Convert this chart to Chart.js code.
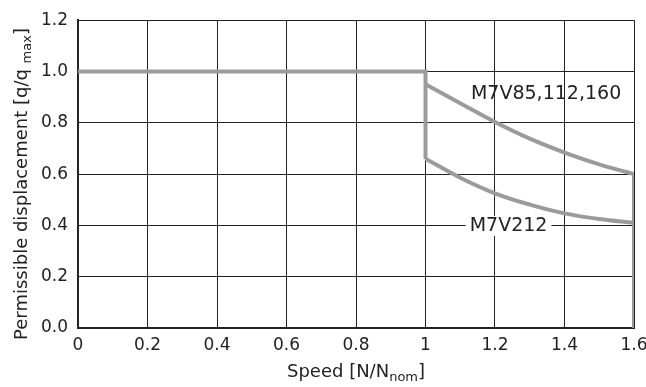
<!DOCTYPE html>
<html>
<head>
<meta charset="utf-8">
<script src="https://cdn.jsdelivr.net/npm/chart.js@4.4.0/dist/chart.umd.min.js"></script>
<style>
  html, body { margin: 0; padding: 0; background: #fff; }
  #wrap { width: 646px; height: 387px; }
</style>
</head>
<body>
<div id="wrap"><canvas id="myChart" width="646" height="387"></canvas></div>
<script>
// values
const flatX = [0, 1, 1];
const flatY = [1.0, 1.0, 0.66];
const curveX = [1.0, 1.1, 1.2, 1.3, 1.4, 1.5, 1.6];
const upperY = [0.95, 0.876, 0.803, 0.738, 0.684, 0.638, 0.60];
const lowerY = [0.66, 0.586, 0.525, 0.481, 0.447, 0.425, 0.41];
const edgeX = [1.6, 1.6];
const edgeY = [0.60, 0.0];
const xTicks = [0, 0.2, 0.4, 0.6, 0.8, 1, 1.2, 1.4, 1.6];
const yTicks = [0.0, 0.2, 0.4, 0.6, 0.8, 1.0, 1.2];
const curveLabels = [
  { text: 'M7V85,112,160', x: 1.347, y: 0.912, box: false },
  { text: 'M7V212', x: 1.239, y: 0.398, box: true }
];

const FONT = '"DejaVu Sans", sans-serif';
const GREY = '#9b9b9d';

const pts = (xs, ys) => xs.map((x, i) => ({ x: x, y: ys[i] }));

const lineSet = (data, tension) => ({
  data: data,
  borderColor: GREY,
  borderWidth: 4,
  pointRadius: 0,
  tension: tension,
  borderCapStyle: 'butt',
  borderJoinStyle: 'miter',
  fill: false
});

// text drawn by hand: curve labels and the axis titles with subscripts
const textPlugin = {
  id: 'texts',
  afterDatasetsDraw(chart) {
    const c = chart.ctx;
    const xs = chart.scales.x, ys = chart.scales.y;
    c.save();
    c.font = '19px ' + FONT;
    c.textBaseline = 'middle';
    c.textAlign = 'center';
    curveLabels.forEach(l => {
      const px = xs.getPixelForValue(l.x), py = ys.getPixelForValue(l.y);
      if (l.box) {
        const w = c.measureText(l.text).width;
        c.fillStyle = '#fff';
        c.fillRect(px - w / 2 - 4, py - 10, w + 8, 20);
      }
      c.fillStyle = '#222';
      c.fillText(l.text, px, py);
    });
    c.restore();
  },
  afterDraw(chart) {
    const c = chart.ctx;
    const a = chart.chartArea;
    c.save();
    c.fillStyle = '#222';
    c.textBaseline = 'alphabetic';
    const drawParts = (parts, x0, y0) => {
      let total = 0;
      parts.forEach(p => { c.font = p[1] + 'px ' + FONT; total += c.measureText(p[0]).width; });
      let x = x0 - total / 2;
      parts.forEach(p => {
        c.font = p[1] + 'px ' + FONT;
        c.fillText(p[0], x, y0 + p[2]);
        x += c.measureText(p[0]).width;
      });
    };
    // x title
    drawParts([['Speed [N/N', 18, 0], ['nom', 13, 4], [']', 18, 0]], (a.left + a.right) / 2, 377);
    // y title
    c.translate(27, 184);
    c.rotate(-Math.PI / 2);
    drawParts([['Permissible displacement [q/q ', 18, 0], ['max', 13, 4], [']', 18, 0]], 0, 0);
    c.restore();
  }
};

new Chart(document.getElementById('myChart').getContext('2d'), {
  type: 'line',
  data: {
    datasets: [
      lineSet(pts(flatX, flatY), 0),
      lineSet(pts(curveX, upperY), 0.4),
      lineSet(pts(curveX, lowerY), 0.4),
      lineSet(pts(edgeX, edgeY), 0)
    ]
  },
  options: {
    responsive: false,
    animation: false,
    layout: { padding: { top: 19, right: 12, left: 0, bottom: 0 } },
    plugins: { legend: { display: false }, tooltip: { enabled: false }, title: { display: false } },
    scales: {
      x: {
        type: 'linear',
        min: 0, max: 1.6,
        afterBuildTicks: s => { s.ticks = xTicks.map(v => ({ value: v })); },
        afterFit: s => { s.height = 59; s.paddingRight = 0; s.paddingLeft = 0; },
        ticks: {
          color: '#222',
          font: { family: FONT, size: 17 },
          padding: 7,
          maxRotation: 0,
          autoSkip: false,
          callback: v => String(v)
        },
        grid: { color: '#222', lineWidth: 1, drawTicks: false },
        border: { color: '#222', width: 2 }
      },
      y: {
        min: 0, max: 1.2,
        afterBuildTicks: s => { s.ticks = yTicks.map(v => ({ value: v })); },
        afterFit: s => { s.width = 78; },
        ticks: {
          color: '#222',
          font: { family: FONT, size: 17 },
          padding: 10,
          callback: v => v.toFixed(1)
        },
        grid: { color: '#222', lineWidth: 1, drawTicks: false },
        border: { color: '#222', width: 2 }
      }
    }
  },
  plugins: [textPlugin]
});
</script>
</body>
</html>
